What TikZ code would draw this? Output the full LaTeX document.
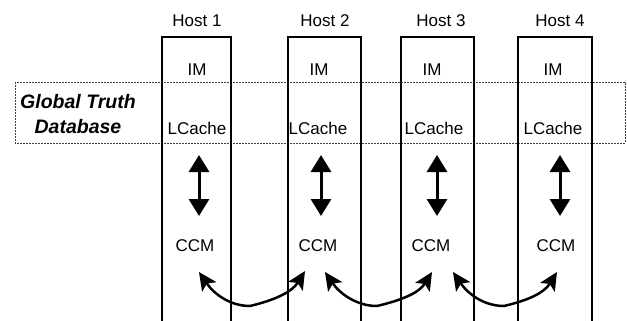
\documentclass[tikz,border=0pt]{standalone}
\usepackage{fontspec}
\setmainfont{Liberation Sans}
\usetikzlibrary{arrows.meta,calc}
\begin{document}
\begin{tikzpicture}[x=1pt,y=-1pt,
  lbl/.style={inner sep=0pt,font=\fontsize{17}{20}\selectfont},
  gtd/.style={inner sep=0pt,align=center,font=\fontsize{19.5}{26}\selectfont\bfseries\itshape},
  hostbox/.style={line width=2.1pt},
  dbrect/.style={line width=0.7pt,draw=black!75,dash pattern=on 2pt off 1pt},
  vdbl/.style={line width=3pt,{Triangle[width=20pt,length=17pt]}-{Triangle[width=20pt,length=17pt]}},
  carrow/.style={line width=2.5pt,{Stealth[width=17pt,length=18pt,inset=4pt]}-{Stealth[width=17pt,length=18pt,inset=4pt]}}]
\useasboundingbox (0,0) rectangle (627,321);
% global truth database band
\draw[dbrect] (15,82) rectangle (625,143);
\node[gtd] (gt) at (78,114) {Global Truth\\[-1pt]Database};
% host boxes (open at bottom)
\draw[hostbox] (162,322) -- (162,37) -- (231,37) -- (231,322);
\draw[hostbox] (288,322) -- (288,37) -- (361,37) -- (361,322);
\draw[hostbox] (401,322) -- (401,37) -- (474,37) -- (474,322);
\draw[hostbox] (518,322) -- (518,37) -- (592,37) -- (592,322);
% labels
\node[lbl] (h1) at (197,21) {Host 1};
\node[lbl] (h2) at (325,21) {Host 2};
\node[lbl] (h3) at (441,21) {Host 3};
\node[lbl] (h4) at (560,21) {Host 4};
\node[lbl] (im1) at (197,70) {IM};
\node[lbl] (im2) at (319,70) {IM};
\node[lbl] (im3) at (432,70) {IM};
\node[lbl] (im4) at (553,70) {IM};
\node[lbl] (lc1) at (197,128) {LCache};
\node[lbl] (lc2) at (318,128) {LCache};
\node[lbl] (lc3) at (434,128) {LCache};
\node[lbl] (lc4) at (553,128) {LCache};
\node[lbl] (cc1) at (195,246) {CCM};
\node[lbl] (cc2) at (318,246) {CCM};
\node[lbl] (cc3) at (431,246) {CCM};
\node[lbl] (cc4) at (556,246) {CCM};
% vertical double arrows
\draw[vdbl] ($(lc1)+(2,27)$) -- ($(cc1)+(4,-30)$);
\draw[vdbl] ($(lc2)+(3,27)$) -- ($(cc2)+(3,-30)$);
\draw[vdbl] ($(lc3)+(3,27)$) -- ($(cc3)+(6,-30)$);
\draw[vdbl] ($(lc4)+(7,27)$) -- ($(cc4)+(4,-30)$);
% curved arrows between CCMs
\coordinate (a1) at (199,272); \coordinate (m1) at (250,306); \coordinate (b1) at (305,271);
\coordinate (a2) at (325,272); \coordinate (m2) at (377,306); \coordinate (b2) at (432,272);
\coordinate (a3) at (453,272); \coordinate (m3) at (504,306); \coordinate (b3) at (557,272);
\foreach \i in {1,2,3}{
  \draw[carrow] (a\i) .. controls +(15,22) and +(-20,0) .. (m\i)
                      .. controls +(25,-6) and +(-13,21) .. (b\i);
}
\end{tikzpicture}
\end{document}
